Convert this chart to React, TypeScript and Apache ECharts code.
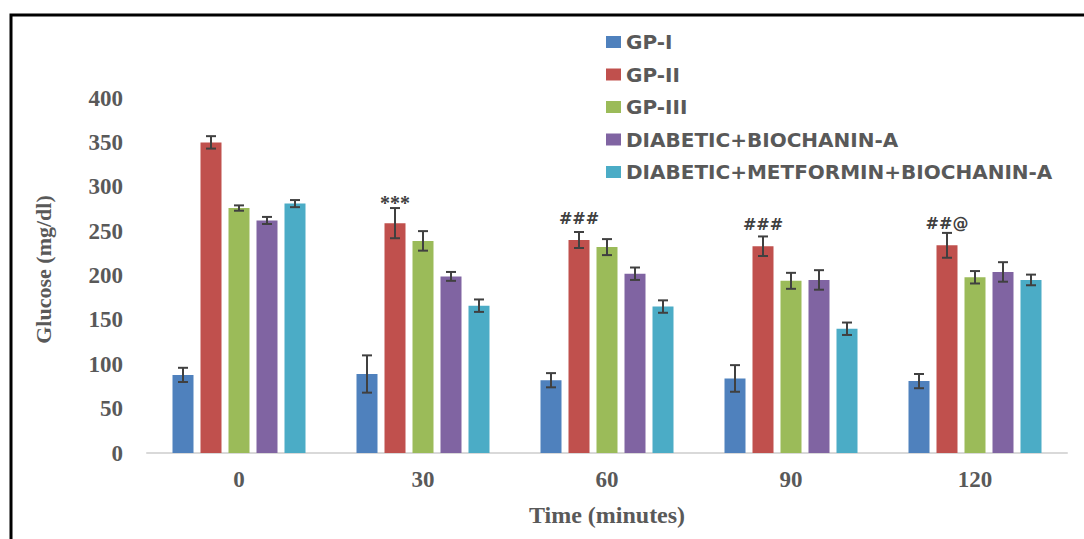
import React, { useEffect, useRef } from "react";
import * as echarts from "echarts";

const categories = ["0", "30", "60", "90", "120"];
const seriesNames = [
  "GP-I",
  "GP-II",
  "GP-III",
  "DIABETIC+BIOCHANIN-A",
  "DIABETIC+METFORMIN+BIOCHANIN-A",
];
const gp1 = [88, 89, 82, 84, 81];
const gp1Err = [8, 21, 8, 15, 8];
const gp2 = [350, 259, 240, 233, 234];
const gp2Err = [7, 17, 9, 11, 14];
const gp3 = [276, 239, 232, 194, 198];
const gp3Err = [3, 11, 9, 9, 7];
const bio = [262, 199, 202, 195, 204];
const bioErr = [4, 5, 7, 11, 11];
const metBio = [281, 166, 165, 140, 195];
const metBioErr = [4, 7, 7, 7, 6];
const annotations = ["", "***", "###", "###", "##@"];

const colors = ["#4f81bd", "#c0504d", "#9bbb59", "#8064a2", "#4bacc6"];
const TEXT = "#595959";
const SERIF = "'Liberation Serif', 'Times New Roman', serif";
const SANS = "'DejaVu Sans', sans-serif";

const BAR_W = 21;
const BAR_GAP = 7;

export default function App() {
  const ref = useRef<HTMLDivElement>(null);
  useEffect(() => {
    if (!ref.current) return;
    const chart = echarts.init(ref.current, null, { renderer: "svg" });
    const values = [gp1, gp2, gp3, bio, metBio];
    const errs = [gp1Err, gp2Err, gp3Err, bioErr, metBioErr];

    const barSeries = values.map((vals, si) => ({
      type: "bar",
      name: seriesNames[si],
      barWidth: BAR_W,
      barGap: (BAR_GAP / BAR_W) * 100 + "%",
      itemStyle: { color: colors[si] },
      data:
        si === 1
          ? vals.map((v, i) => {
              const star = annotations[i] === "***";
              return {
                value: v,
                label: {
                  show: !!annotations[i],
                  position: "top",
                  distance: star ? 10 : 14,
                  formatter: annotations[i],
                  fontFamily: star ? SERIF : SANS,
                  fontWeight: "bold",
                  fontSize: star ? 20 : 16,
                  color: "#404040",
                },
              };
            })
          : vals,
      z: 2,
    }));

    const errSeries = values.map((vals, si) => ({
      type: "custom",
      name: seriesNames[si] + " error",
      z: 5,
      silent: true,
      renderItem: (params: any, api: any) => {
        const idx = api.value(0);
        const v = api.value(1);
        const e = api.value(2);
        const c = api.coord([idx, v]);
        const hi = api.coord([idx, v + e]);
        const lo = api.coord([idx, v - e]);
        const x = c[0] + (si - 2) * (BAR_W + BAR_GAP);
        const cap = 5;
        const style = { stroke: "#404040", lineWidth: 2 };
        return {
          type: "group",
          children: [
            { type: "line", shape: { x1: x, y1: hi[1], x2: x, y2: lo[1] }, style },
            { type: "line", shape: { x1: x - cap, y1: hi[1], x2: x + cap, y2: hi[1] }, style },
            { type: "line", shape: { x1: x - cap, y1: lo[1], x2: x + cap, y2: lo[1] }, style },
          ],
        };
      },
      data: vals.map((v, i) => [i, v, errs[si][i]]),
    }));

    chart.setOption({
      animation: false,
      backgroundColor: "#ffffff",
      legend: {
        data: seriesNames,
        orient: "vertical",
        left: 601,
        top: 27,
        itemWidth: 15,
        itemHeight: 12,
        itemGap: 12.5,
        icon: "rect",
        textStyle: { color: TEXT, fontFamily: SANS, fontWeight: "bold", fontSize: 20 },
      },
      grid: { left: 147, right: 17, top: 98, bottom: 86, containLabel: false },
      xAxis: {
        type: "category",
        data: categories,
        name: "Time (minutes)",
        nameLocation: "middle",
        nameGap: 50,
        nameTextStyle: { color: TEXT, fontFamily: SERIF, fontWeight: "bold", fontSize: 24, verticalAlign: "top" },
        axisLine: { lineStyle: { color: "#d9d9d9", width: 2 } },
        axisTick: { show: false },
        axisLabel: { color: TEXT, fontFamily: SERIF, fontWeight: "bold", fontSize: 23, margin: 15 },
      },
      yAxis: {
        type: "value",
        min: 0,
        max: 400,
        interval: 50,
        name: "Glucose (mg/dl)",
        nameLocation: "middle",
        nameGap: 93,
        nameTextStyle: { color: TEXT, fontFamily: SERIF, fontWeight: "bold", fontSize: 22, padding: [0, 0, 0, 12] },
        splitLine: { show: false },
        axisLine: { show: false },
        axisTick: { show: false },
        axisLabel: { color: TEXT, fontFamily: SERIF, fontWeight: "bold", fontSize: 23, margin: 24 },
      },
      graphic: [
        {
          type: "rect",
          shape: { x: 11, y: 15, width: 1200, height: 700 },
          style: { fill: "none", stroke: "#000000", lineWidth: 3 },
          silent: true,
        },
      ],
      series: [...barSeries, ...errSeries],
    });
    return () => chart.dispose();
  }, []);
  return (
    <div
      ref={ref}
      style={{ position: "absolute", left: 0, top: 0, width: 1084, height: 539, background: "#fff" }}
    />
  );
}
